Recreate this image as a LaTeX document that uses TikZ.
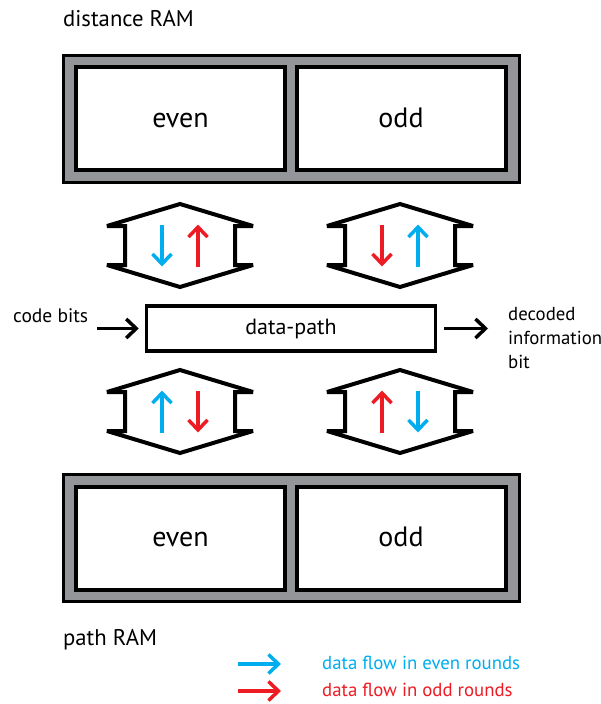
\documentclass[tikz,border=0pt]{standalone}
\usepackage{fontspec}
\setmainfont{PT Sans}
\usetikzlibrary{arrows.meta}

\definecolor{ramgray}{RGB}{147,149,152}
\definecolor{evenblue}{RGB}{0,174,239}
\definecolor{oddred}{RGB}{237,28,36}

\begin{document}
\begin{tikzpicture}[
        x=1pt, y=-1pt,
        ram/.style={
            draw, line width=3pt, fill=ramgray, inner sep=0pt,
            minimum width=456pt, minimum height=127pt
        },
        bank/.style={
            draw, line width=4pt, fill=white, inner sep=0pt,
            minimum width=209pt, minimum height=103pt,
            text height=17pt, text depth=0pt,
            font=\fontsize{28}{33}\selectfont
        },
        label/.style={inner sep=0pt, font=\fontsize{22.7}{27}\selectfont},
        side/.style={inner sep=0pt, font=\fontsize{18.8}{24}\selectfont},
        flow/.style={line width=3.5pt, -{Straight Barb[length=10pt,width=19pt,line width=3.5pt]}},
        even/.style={flow, evenblue},
        odd/.style={flow, oddred},
        port/.pic={
            \draw[line width=4pt, line join=miter, miter limit=2]
                (-73,-19.5) -- (0,-41.5) -- (73,-19.5) -- (55,-19.5) -- (55,19.5)
                -- (73,19.5) -- (0,41.5) -- (-73,19.5) -- (-55,19.5) -- (-55,-19.5) -- cycle;
            \coordinate (-lt) at (-18,-21);
            \coordinate (-lb) at (-18,21);
            \coordinate (-rt) at (18,-21);
            \coordinate (-rb) at (18,21);
        }
    ]

    \useasboundingbox[fill=white] (0,0) rectangle (601,704);

    % distance RAM
    \node[label, anchor=base west] (dlabel) at (63,27) {distance RAM};
    \node[ram] (dram) at (291.5,119) {};
    \node[bank] (deven) at (180.5,118.5) {even};
    \node[bank] (dodd) at (401,118.5) {odd};

    % ports between the RAMs and the data-path
    \pic (p1) at (180,245.5) {port};
    \pic (p2) at (400,245.5) {port};
    \pic (p3) at (180,411.5) {port};
    \pic (p4) at (400,411.5) {port};

    \draw[even] (p1-lt) -- (p1-lb);
    \draw[odd] (p1-rb) -- (p1-rt);
    \draw[odd] (p2-lt) -- (p2-lb);
    \draw[even] (p2-rb) -- (p2-rt);
    \draw[even] (p3-lb) -- (p3-lt);
    \draw[odd] (p3-rt) -- (p3-rb);
    \draw[odd] (p4-lb) -- (p4-lt);
    \draw[even] (p4-rt) -- (p4-rb);

    % data-path
    \node[draw, line width=3.5pt, minimum width=289pt, minimum height=45pt,
        font=\fontsize{22}{26}\selectfont] (dp) at (291,328.5) {data-path};
    \node[side, anchor=base west, font=\fontsize{19.5}{24}\selectfont] (cbits) at (13,322) {code bits};
    \coordinate (cin) at (97,328.5);
    \coordinate (dout) at (488,328.5);
    \draw[flow] (cin) -- ([xshift=-6pt]dp.west);
    \draw[flow] ([xshift=7pt]dp.east) -- (dout);
    \node[side, align=left, anchor=north west] (dbit) at (508,307)
        {decoded\\information\\bit};

    % path RAM
    \node[ram] (pram) at (291.5,538) {};
    \node[bank] (peven) at (180.5,538) {even};
    \node[bank] (podd) at (401,538) {odd};
    \node[label, anchor=base west] (plabel) at (63,645) {path RAM};

    % legend
    \coordinate (eb0) at (238,664);
    \coordinate (eb1) at (281,664);
    \coordinate (or0) at (238,691);
    \coordinate (or1) at (281,691);
    \draw[even] (eb0) -- (eb1);
    \draw[odd] (or0) -- (or1);
    \node[side, evenblue, anchor=west] (etext) at (322,663)
        {data flow in even rounds};
    \node[side, oddred, anchor=west] (otext) at (322,690)
        {data flow in odd rounds};
\end{tikzpicture}
\end{document}
